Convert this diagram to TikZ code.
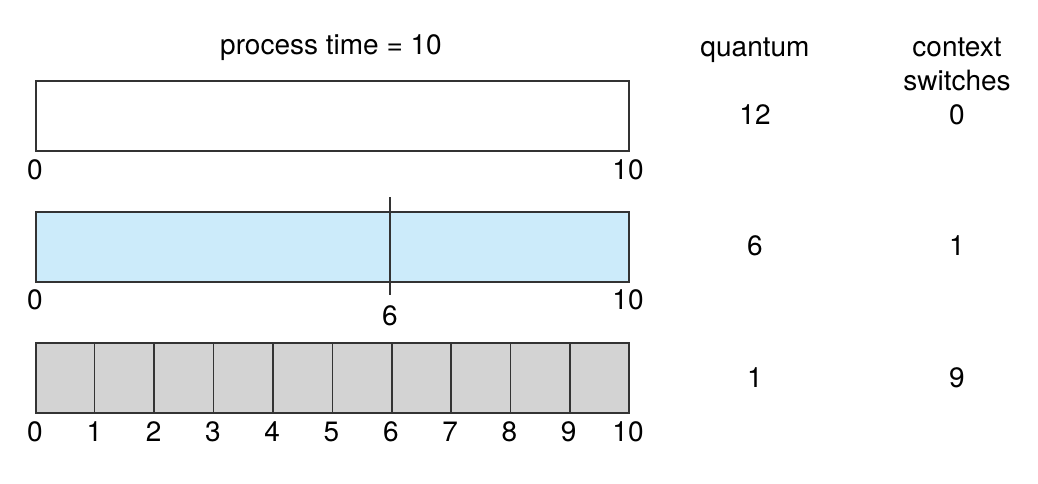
\documentclass[tikz,border=0pt]{standalone}
\usepackage{fontspec}
\setmainfont{TeX Gyre Heros}
\usetikzlibrary{positioning,calc}

\definecolor{barblue}{HTML}{CCEBFA}
\definecolor{bargray}{HTML}{D3D3D3}
\definecolor{barline}{HTML}{333333}

\tikzset{
  bar/.style={draw=barline, line width=0.8pt, minimum width=296.5pt,
              minimum height=35pt, inner sep=0pt, anchor=north west},
  lbl/.style={inner sep=0pt, font=\fontsize{14}{17}\selectfont}
}

\begin{document}
\begin{tikzpicture}[x=0.5pt,y=-0.5pt]
    \useasboundingbox (0,0) rectangle (1038,483);

    % headings
    \node[lbl] (ptime) at (331,48) {process time = 10};
    \node[lbl] (quant) at (755,50) {quantum};
    \node[lbl, align=center] (ctx) at (957,64) {context\\switches};

    % quantum 12
    \node[bar, fill=white] (b1) at (35,80) {};
    \node[lbl] (b1l) at (35,170) {0};
    \node[lbl] (b1r) at (628,170) {10};
    \node[lbl] (q1) at (755,115) {12};
    \node[lbl] (c1) at (957,115) {0};

    % quantum 6
    \node[bar, fill=barblue] (b2) at (35,211) {};
    \coordinate (s2t) at (390,197);
    \coordinate (s2b) at (390,295);
    \draw[barline, line width=0.8pt] (s2t) -- (s2b);
    \node[lbl] (b2l) at (35,300) {0};
    \node[lbl] (b2m) at (390,316) {6};
    \node[lbl] (b2r) at (628,300) {10};
    \node[lbl] (q2) at (755,246) {6};
    \node[lbl] (c2) at (957,246) {1};

    % quantum 1
    \node[bar, fill=bargray] (b3) at (35,342) {};
    \foreach \i in {1,...,9}
        \draw[barline, line width=0.8pt] ($(b3.north west)!\i/10!(b3.north east)$) coordinate (t\i)
            -- ($(b3.south west)!\i/10!(b3.south east)$) coordinate (u\i);
    \foreach \i in {0,...,10}
        \node[lbl] (b3n\i) at (35+59.3*\i,432) {\i};
    \node[lbl] (q3) at (755,378) {1};
    \node[lbl] (c3) at (957,378) {9};
\end{tikzpicture}
\end{document}
